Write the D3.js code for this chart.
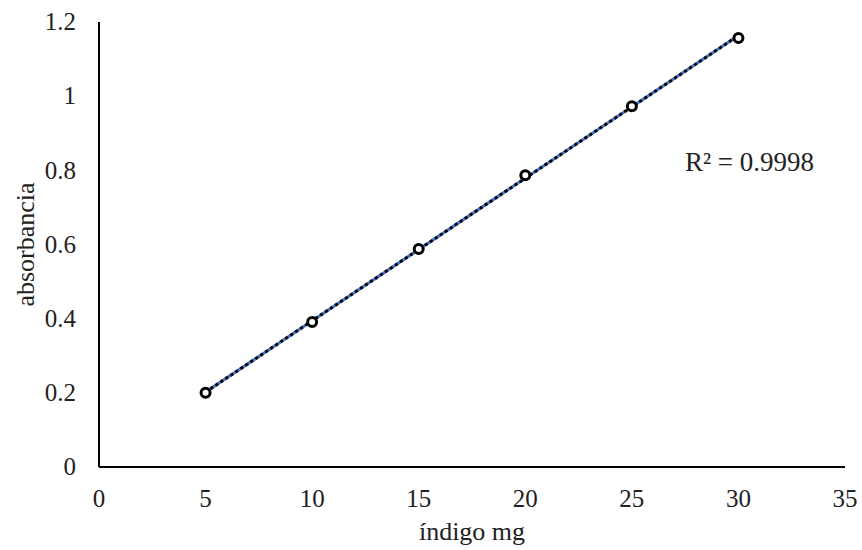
<!DOCTYPE html>
<html>
<head>
<meta charset="utf-8">
<script src="https://cdn.jsdelivr.net/npm/d3@7"></script>
<style>
  body { margin: 0; background: #fff; }
  svg text { font-family: 'Liberation Serif', 'Times New Roman', Times, 'DejaVu Serif', serif; fill: #222; }
</style>
</head>
<body>
<svg width="862" height="550"></svg>
<script>
// Data
var xValues = [5, 10, 15, 20, 25, 30];
var yValues = [0.2, 0.391, 0.588, 0.787, 0.973, 1.157];
var xTicks = [0, 5, 10, 15, 20, 25, 30, 35];
var yTicks = [0, 0.2, 0.4, 0.6, 0.8, 1, 1.2];
var r2Label = 'R² = 0.9998';

var svg = d3.select('svg');

var x = d3.scaleLinear().domain([0, 35]).range([99, 845]);
var y = d3.scaleLinear().domain([0, 1.2]).range([467, 22]);

// Axis lines
svg.append('line')
    .attr('x1', x(0)).attr('x2', x(35))
    .attr('y1', y(0)).attr('y2', y(0))
    .attr('stroke', '#000').attr('stroke-width', 2);
svg.append('line')
    .attr('x1', x(0)).attr('x2', x(0))
    .attr('y1', y(0)).attr('y2', y(1.2))
    .attr('stroke', '#000').attr('stroke-width', 2);

// Tick labels
svg.selectAll('.xtick')
    .data(xTicks)
    .enter().append('text')
    .attr('class', 'xtick')
    .attr('x', d => x(d))
    .attr('y', 507)
    .attr('text-anchor', 'middle')
    .style('font-size', '25px')
    .text(d => d);

svg.selectAll('.ytick')
    .data(yTicks)
    .enter().append('text')
    .attr('class', 'ytick')
    .attr('x', 76)
    .attr('y', d => y(d))
    .attr('dy', '0.33em')
    .attr('text-anchor', 'end')
    .style('font-size', '25px')
    .text(d => d);

// Axis titles
svg.append('text')
    .attr('x', (x(0) + x(35)) / 2)
    .attr('y', 540)
    .attr('text-anchor', 'middle')
    .style('font-size', '26px')
    .text('índigo mg');

svg.append('text')
    .attr('transform', 'translate(34,' + ((y(0) + y(1.2)) / 2) + ') rotate(-90)')
    .attr('text-anchor', 'middle')
    .style('font-size', '26px')
    .text('absorbancia');

// Linear trendline (least squares)
var mx = d3.mean(xValues), my = d3.mean(yValues);
var sxy = d3.sum(xValues, (d, i) => (d - mx) * (yValues[i] - my));
var sxx = d3.sum(xValues, d => (d - mx) * (d - mx));
var slope = sxy / sxx;
var intercept = my - slope * mx;
var x0 = d3.min(xValues), x1 = d3.max(xValues);

svg.append('line')
    .attr('x1', x(x0)).attr('y1', y(intercept + slope * x0))
    .attr('x2', x(x1)).attr('y2', y(intercept + slope * x1))
    .attr('stroke', '#4472c4').attr('stroke-width', 3);
svg.append('line')
    .attr('x1', x(x0)).attr('y1', y(intercept + slope * x0))
    .attr('x2', x(x1)).attr('y2', y(intercept + slope * x1))
    .attr('stroke', '#000').attr('stroke-width', 3)
    .attr('stroke-dasharray', '3,3');

// Markers
svg.selectAll('.pt')
    .data(xValues)
    .enter().append('circle')
    .attr('class', 'pt')
    .attr('cx', d => x(d))
    .attr('cy', (d, i) => y(yValues[i]))
    .attr('r', 4.5)
    .attr('fill', '#fff')
    .attr('stroke', '#000')
    .attr('stroke-width', 3);

// R squared label
svg.append('text')
    .attr('x', 685)
    .attr('y', 171)
    .style('font-size', '27px')
    .text(r2Label);
</script>
</body>
</html>
